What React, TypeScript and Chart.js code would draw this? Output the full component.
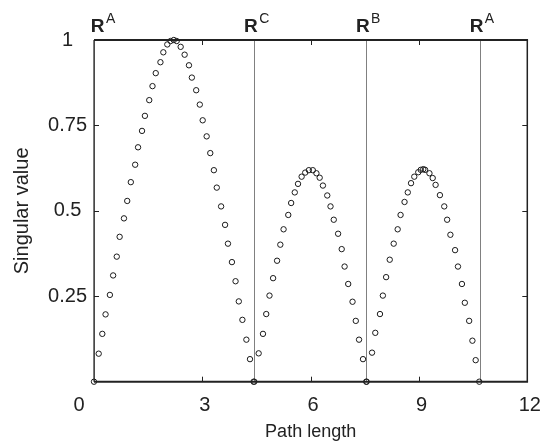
import React, { useEffect, useRef } from 'react';
import { Chart, registerables } from 'chart.js';

Chart.register(...registerables);

// Path length / singular value samples
const arch1X = [0, 0.13, 0.23, 0.32, 0.44, 0.53, 0.63, 0.71, 0.83, 0.92, 1.02, 1.14, 1.22, 1.33, 1.41, 1.53, 1.62, 1.71, 1.84, 1.92, 2.03, 2.12, 2.21, 2.29, 2.40, 2.51, 2.63, 2.71, 2.83, 2.93, 3.01, 3.12, 3.22, 3.32, 3.40, 3.52, 3.63, 3.71, 3.82, 3.92, 4.01, 4.11, 4.22, 4.32, 4.42];
const arch1Y = [0, 0.082, 0.14, 0.197, 0.254, 0.311, 0.366, 0.424, 0.478, 0.529, 0.584, 0.635, 0.686, 0.734, 0.778, 0.824, 0.865, 0.903, 0.935, 0.964, 0.987, 0.997, 1.0, 0.997, 0.98, 0.957, 0.926, 0.89, 0.853, 0.811, 0.765, 0.718, 0.669, 0.619, 0.568, 0.513, 0.459, 0.404, 0.35, 0.294, 0.235, 0.181, 0.123, 0.066, 0];

const arch2X = [4.44, 4.56, 4.68, 4.77, 4.86, 4.96, 5.07, 5.16, 5.25, 5.38, 5.46, 5.56, 5.65, 5.75, 5.85, 5.95, 6.06, 6.16, 6.25, 6.34, 6.46, 6.55, 6.64, 6.76, 6.86, 6.94, 7.04, 7.16, 7.25, 7.34, 7.45, 7.54];
const arch2Y = [0, 0.083, 0.14, 0.198, 0.252, 0.303, 0.354, 0.401, 0.446, 0.488, 0.523, 0.554, 0.579, 0.6, 0.612, 0.619, 0.619, 0.61, 0.597, 0.574, 0.545, 0.513, 0.474, 0.433, 0.388, 0.337, 0.286, 0.234, 0.178, 0.123, 0.066, 0];

const arch3X = [7.55, 7.7, 7.79, 7.92, 8.0, 8.09, 8.19, 8.3, 8.41, 8.49, 8.6, 8.69, 8.78, 8.87, 8.98, 9.05, 9.12, 9.17, 9.29, 9.38, 9.46, 9.58, 9.7, 9.78, 9.87, 10.0, 10.08, 10.19, 10.27, 10.39, 10.48, 10.57, 10.67];
const arch3Y = [0, 0.085, 0.143, 0.198, 0.252, 0.306, 0.357, 0.404, 0.446, 0.488, 0.526, 0.554, 0.581, 0.6, 0.613, 0.62, 0.622, 0.62, 0.61, 0.596, 0.576, 0.546, 0.513, 0.474, 0.43, 0.385, 0.337, 0.286, 0.231, 0.178, 0.12, 0.063, 0];

const symmetryX = [0, 4.43, 7.53, 10.68];
const symmetryLabels = ['A', 'C', 'B', 'A'];

const xTickValues = [0, 3, 6, 9, 12];
const yTickValues = [0.25, 0.5, 0.75, 1];

const FONT = '"Liberation Sans", Arial, Helvetica, sans-serif';
const TEXT = '#222222';

const framePlugin = {
  id: 'matlabFrame',
  beforeDatasetsDraw(chart: any) {
    const { ctx, chartArea, scales } = chart;
    const { top, bottom } = chartArea;
    ctx.save();
    ctx.strokeStyle = '#808080';
    ctx.lineWidth = 1;
    symmetryX.forEach((v) => {
      const px = Math.round(scales.x.getPixelForValue(v)) + 0.5;
      ctx.beginPath();
      ctx.moveTo(px, top);
      ctx.lineTo(px, bottom);
      ctx.stroke();
    });
    ctx.restore();
  },
  afterDraw(chart: any) {
    const { ctx, chartArea, scales } = chart;
    const { left, right, top, bottom } = chartArea;
    ctx.save();
    ctx.strokeStyle = TEXT;
    // frame
    ctx.lineWidth = 2;
    ctx.beginPath();
    ctx.moveTo(left, bottom);
    ctx.lineTo(right + 0.75, bottom);
    ctx.moveTo(left, top);
    ctx.lineTo(right + 0.75, top);
    ctx.stroke();
    ctx.lineWidth = 1.5;
    ctx.beginPath();
    ctx.moveTo(right, top);
    ctx.lineTo(right, bottom);
    ctx.stroke();
    ctx.lineWidth = 1.2;
    ctx.beginPath();
    ctx.moveTo(left, top);
    ctx.lineTo(left, bottom);
    ctx.stroke();
    // inward ticks
    ctx.lineWidth = 1;
    const tl = 5;
    xTickValues.forEach((v) => {
      const px = Math.round(scales.x.getPixelForValue(v)) + 0.5;
      if (px <= left + 1 || px >= right - 1) return;
      ctx.beginPath();
      ctx.moveTo(px, bottom);
      ctx.lineTo(px, bottom - tl);
      ctx.moveTo(px, top);
      ctx.lineTo(px, top + tl);
      ctx.stroke();
    });
    yTickValues.forEach((v) => {
      const py = Math.round(scales.y.getPixelForValue(v)) + 0.5;
      if (py <= top + 1 || py >= bottom - 1) return;
      ctx.beginPath();
      ctx.moveTo(left, py);
      ctx.lineTo(left + tl, py);
      ctx.moveTo(right, py);
      ctx.lineTo(right - tl, py);
      ctx.stroke();
    });
    // x tick labels (first one sits left of the axis corner, as in the reference)
    ctx.fillStyle = TEXT;
    ctx.font = `20px ${FONT}`;
    ctx.textAlign = 'center';
    ctx.textBaseline = 'middle';
    xTickValues.forEach((v, i) => {
      const px = scales.x.getPixelForValue(v);
      const lx = i === 0 ? px - 15 : px + 2.5;
      ctx.fillText(String(v), lx, bottom + 24);
    });
    // symmetry point labels
    ctx.textBaseline = 'alphabetic';
    ctx.textAlign = 'left';
    symmetryX.forEach((v, i) => {
      const px = scales.x.getPixelForValue(v);
      const sx = Math.max(px - 10, left - 3.3);
      ctx.font = `bold 19px ${FONT}`;
      ctx.fillText('R', sx, top - 8);
      const w = ctx.measureText('R').width;
      ctx.font = `14px ${FONT}`;
      ctx.fillText(symmetryLabels[i], sx + w + 1.5, top - 17.3);
    });
    ctx.restore();
  },
};

export default function App() {
  const canvasRef = useRef<HTMLCanvasElement | null>(null);

  useEffect(() => {
    if (!canvasRef.current) return;
    const points: { x: number; y: number }[] = [];
    [
      [arch1X, arch1Y],
      [arch2X, arch2Y],
      [arch3X, arch3Y],
    ].forEach(([xs, ys]) => {
      xs.forEach((xv, i) => points.push({ x: xv, y: ys[i] }));
    });

    const chart = new Chart(canvasRef.current, {
      type: 'scatter',
      data: {
        datasets: [
          {
            data: points,
            showLine: false,
            pointStyle: 'circle',
            pointRadius: 2.7,
            pointBorderWidth: 1,
            pointBorderColor: '#1a1a1a',
            pointBackgroundColor: 'rgba(0,0,0,0)',
            clip: false,
          } as any,
        ],
      },
      options: {
        animation: false,
        responsive: false,
        maintainAspectRatio: false,
        events: [],
        layout: { padding: { top: 40, right: 19.7, left: 0, bottom: 0 } },
        plugins: {
          legend: { display: false },
          tooltip: { enabled: false },
          title: { display: false },
        },
        scales: {
          x: {
            type: 'linear',
            min: 0,
            max: 12,
            afterFit: (scale: any) => {
              scale.height = 62.3;
            },
            afterBuildTicks: (scale: any) => {
              scale.ticks = xTickValues.map((v) => ({ value: v }));
            },
            grid: { display: false, drawTicks: false },
            border: { display: false },
            ticks: { display: false },
            title: {
              display: true,
              text: 'Path length',
              color: TEXT,
              font: { family: FONT, size: 18 },
              padding: { top: 0, bottom: 1 },
            },
          },
          y: {
            type: 'linear',
            min: 0,
            max: 1,
            afterFit: (scale: any) => {
              scale.width = 94;
            },
            afterBuildTicks: (scale: any) => {
              scale.ticks = yTickValues.map((v) => ({ value: v }));
            },
            grid: { display: false, drawTicks: false },
            border: { display: false },
            ticks: {
              padding: 7,
              crossAlign: 'center',
              color: TEXT,
              font: { family: FONT, size: 20 },
              callback: (v: any) => String(v),
            },
            title: {
              display: true,
              text: 'Singular value',
              color: TEXT,
              font: { family: FONT, size: 20 },
              padding: { top: 10, bottom: 0 },
            },
          },
        },
      },
      plugins: [framePlugin],
    });
    return () => chart.destroy();
  }, []);

  return (
    <div style={{ position: 'fixed', left: 0, top: 0, width: 547, height: 444, background: '#fff' }}>
      <canvas ref={canvasRef} width={547} height={444} />
    </div>
  );
}
